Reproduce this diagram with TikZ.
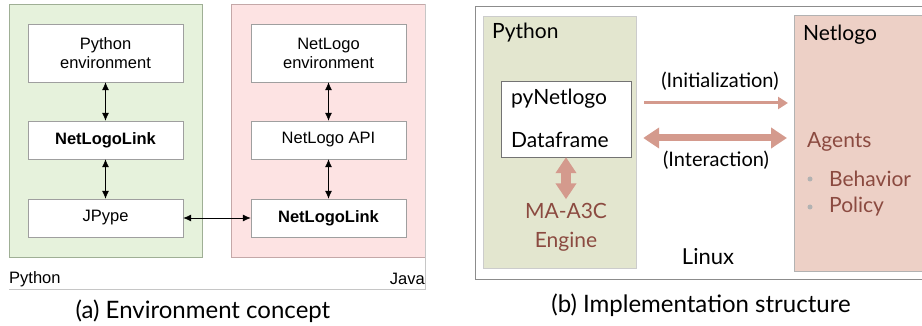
\documentclass[tikz,border=0pt]{standalone}
\usepackage{fontspec}
\setmainfont{Lato}
\newfontfamily\arialfont{Liberation Sans}
\usetikzlibrary{arrows.meta, positioning, calc}

\definecolor{pygreen}{HTML}{E6F2DC}
\definecolor{pyborder}{HTML}{9FAF95}
\definecolor{javapink}{HTML}{FDE3E3}
\definecolor{javaborder}{HTML}{C4A8A8}
\definecolor{olive}{HTML}{E3E6CF}
\definecolor{nlpink}{HTML}{EDD0C6}
\definecolor{salmon}{HTML}{D49A8D}
\definecolor{brownred}{HTML}{8B4A40}

\begin{document}
\begin{tikzpicture}[
    x=1pt, y=-1pt,
    panel/.style = {
        rectangle,
        draw=gray!70,
        inner sep=0pt
    },
    block/.style = {
        rectangle,
        draw=gray!75,
        fill=white,
        minimum width=155pt,
        minimum height=38pt,
        align=center,
        inner sep=0pt,
        font=\arialfont\fontsize{16.5}{19}\selectfont
    },
    link/.style = {{Latex[length=8pt,width=7pt]}-{Latex[length=8pt,width=7pt]}, thick},
    label/.style = {font=\fontsize{21}{24}\selectfont, inner sep=0pt},
    sublabel/.style = {font=\fontsize{20}{23}\selectfont, inner sep=0pt},
    brown/.style = {label, text=brownred},
    fat/.style = {salmon, line width=7pt,
        {Triangle[width=20pt,length=16pt]}-{Triangle[width=20pt,length=16pt]}},
    thin/.style = {salmon, line width=3pt, -{Triangle[width=12pt,length=10pt]}},
    caption/.style = {font=\fontsize{24}{27}\selectfont, inner sep=0pt}
]
    \useasboundingbox (0,0) rectangle (922,326);

    % === (a) ENVIRONMENT CONCEPT ===
    \node[panel, fill=pygreen, draw=pyborder, minimum width=193pt, minimum height=253pt] (pyside) at (105.5,130.5) {};
    \node[panel, fill=javapink, draw=javaborder, minimum width=194pt, minimum height=253pt] (javaside) at (328,130.5) {};

    \node[block, minimum height=58pt] (pyenv) at (105.5,53) {Python\\environment};
    \node[block, font=\arialfont\bfseries\fontsize{16.5}{19}\selectfont] (nllpy) at (105.5,140) {NetLogoLink};
    \node[block] (jpype) at (105.5,218) {JPype};

    \node[block, minimum height=58pt] (nlenv) at (328.5,53) {NetLogo\\environment};
    \node[block] (nlapi) at (328.5,140) {NetLogo API};
    \node[block, font=\arialfont\bfseries\fontsize{16.5}{19}\selectfont] (nlljava) at (328.5,218) {NetLogoLink};

    \draw[link] (pyenv) -- (nllpy);
    \draw[link] (nllpy) -- (jpype);
    \draw[link] (nlenv) -- (nlapi);
    \draw[link] (nlapi) -- (nlljava);
    \draw[link] (jpype) -- (nlljava);

    \node[font=\arialfont\fontsize{16.5}{19}\selectfont, anchor=west, inner sep=0pt] (pylabel) at (9,279) {Python};
    \node[font=\arialfont\fontsize{16.5}{19}\selectfont, anchor=east, inner sep=0pt] (javalabel) at (425,279) {Java};
    \coordinate (lcorner) at (425,289);
    \draw[gray!45] (9,289) -- (lcorner) -- (javaside.north east -| lcorner);

    \node[caption] (capa) at (203,311) {(a) Environment concept};

    % === (b) IMPLEMENTATION STRUCTURE ===
    \draw[gray!90, thick] (940,6) -- (475,6) -- (475,279) -- (940,279);

    \node[panel, fill=olive, draw=gray!40, minimum width=153pt, minimum height=252pt] (pybox) at (559.5,142) {};
    \node[label, anchor=west] (pytitle) at (492,33) {Python};

    \node[panel, fill=white, draw=gray!90!black, minimum width=130pt, minimum height=76pt] (frame) at (566,119) {};
    \node[label, anchor=west] (pynl) at (511,99) {pyNetlogo};
    \node[label, anchor=west] (df) at (511,140) {Dataframe};

    \node[brown, align=center] (engine) at (566,227.5) {MA-A3C\\[5pt]Engine};
    \draw[fat, line width=10pt] (frame.south) -- ($(engine.north)+(0,-4)$);

    \node[panel, fill=nlpink, draw=gray!60, minimum width=150pt, minimum height=256pt, anchor=west] (nlbox) at (794,143) {};
    \node[label, anchor=west] (nltitle) at (803,35) {Netlogo};
    \node[brown, anchor=west] (agents) at (807,142) {Agents};
    \node[circle, fill=gray!60, inner sep=0pt, minimum size=5pt] (dot1) at (810,179) {};
    \node[circle, fill=gray!60, inner sep=0pt, minimum size=5pt] (dot2) at (810,207) {};
    \node[brown, anchor=west] (behav) at (829,179) {Behavior};
    \node[brown, anchor=west] (policy) at (829,207) {Policy};

    % === MAIN DATA FLOW ===
    \draw[thin] ($(frame.east)+(13,-16)$) -- ($(nlbox.west)+(-6,-40)$);
    \draw[fat] ($(frame.east)+(12,19)$) -- ($(nlbox.west)+(-7,-5)$);
    \node[sublabel] (init) at (720,81) {(Initialization)};
    \node[sublabel] (inter) at (716,160) {(Interaction)};

    \node[label, font=\fontsize{22}{25}\selectfont] (linux) at (708,257) {Linux};

    \node[caption] (capb) at (701,305) {(b) Implementation structure};

\end{tikzpicture}
\end{document}
